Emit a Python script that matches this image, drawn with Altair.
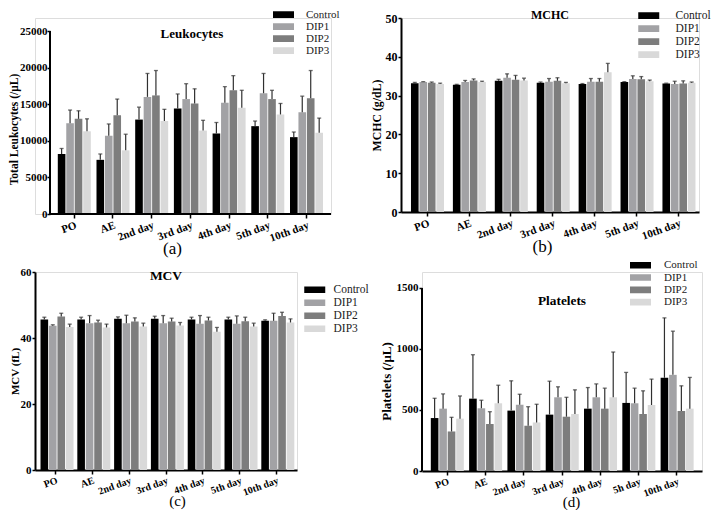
import altair as alt
import pandas as pd

# ---------------- data ----------------
groups = ["Control", "DIP1", "DIP2", "DIP3"]
colors = ["#000000", "#a2a2a5", "#7d7d7d", "#d9d9d9"]
days = ["PO", "AE", "2nd day", "3rd day", "4th day", "5th day", "10th day"]
days_plt = ["PO", "AE", "2nd day", "3rd day", "4th day", "5h day", "10th day"]

# Leukocytes (/uL): mean and error
leu_control = [8200, 7400, 12900, 14400, 11000, 12000, 10500]
leu_control_err = [750, 800, 1700, 2000, 1500, 700, 700]
leu_dip1 = [12400, 10700, 16000, 15700, 15200, 16500, 13900]
leu_dip1_err = [1800, 1600, 3200, 2100, 2200, 2700, 2200]
leu_dip2 = [13000, 13500, 16200, 15100, 16900, 15700, 15800]
leu_dip2_err = [1100, 2200, 3400, 2000, 2000, 1200, 3800]
leu_dip3 = [11300, 8700, 12700, 11400, 14500, 13600, 11100]
leu_dip3_err = [1700, 2200, 1600, 1400, 2400, 1500, 2000]

# MCHC (g/dL)
mchc_control = [33.2, 32.8, 33.8, 33.3, 33.0, 33.5, 33.1]
mchc_control_err = [0.2, 0.1, 0.4, 0.2, 0.1, 0.1, 0.1]
mchc_dip1 = [33.5, 33.5, 34.6, 33.6, 33.6, 34.3, 33.0]
mchc_dip1_err = [0.1, 0.4, 1.0, 0.8, 0.8, 0.8, 0.7]
mchc_dip2 = [33.3, 33.9, 34.1, 33.8, 33.6, 34.2, 33.1]
mchc_dip2_err = [0.2, 0.4, 1.1, 0.8, 0.8, 0.7, 0.7]
mchc_dip3 = [33.0, 33.5, 33.9, 33.2, 36.0, 33.7, 33.3]
mchc_dip3_err = [0.2, 0.2, 0.6, 0.2, 2.3, 0.3, 0.2]

# MCV (fL)
mcv_control = [45.6, 45.6, 45.8, 45.8, 45.6, 45.6, 45.2]
mcv_control_err = [0.7, 0.7, 0.6, 0.8, 0.7, 0.7, 0.3]
mcv_dip1 = [43.7, 44.5, 44.5, 44.5, 44.3, 44.3, 45.2]
mcv_dip1_err = [0.3, 2.3, 2.4, 2.3, 2.5, 2.4, 2.3]
mcv_dip2 = [46.5, 44.7, 45.0, 45.0, 45.3, 45.1, 46.7]
mcv_dip2_err = [1.0, 0.7, 1.1, 1.0, 1.0, 1.2, 1.1]
mcv_dip3 = [43.3, 43.2, 43.5, 43.8, 41.9, 43.5, 44.7]
mcv_dip3_err = [0.9, 1.0, 1.0, 0.9, 1.3, 1.0, 1.1]

# Platelets (/uL)
plt_control = [434, 593, 495, 462, 511, 558, 764]
plt_control_err = [162, 360, 244, 274, 173, 250, 491]
plt_dip1 = [511, 514, 544, 604, 604, 555, 788]
plt_dip1_err = [121, 66, 85, 86, 110, 124, 358]
plt_dip2 = [324, 385, 371, 445, 511, 467, 492]
plt_dip2_err = [116, 101, 156, 159, 168, 190, 206]
plt_dip3 = [429, 555, 398, 467, 604, 541, 511]
plt_dip3_err = [186, 148, 149, 198, 371, 212, 256]

SERIF = "Liberation Serif"
ERR = "#303030"
SYMBOL = "M-3,-0.95H3V0.95H-3Z"  # wide rectangle legend swatch


def frame(day_labels, means, errs):
    rows = []
    for g, m, e in zip(groups, means, errs):
        for d, mv, ev in zip(day_labels, m, e):
            rows.append({"day": d, "group": g, "mean": mv, "upper": mv + ev})
    return pd.DataFrame(rows)


def panel(df, day_labels, c):
    yoff = c["yoff"]
    x = alt.X(
        "day:N", sort=day_labels,
        scale=alt.Scale(paddingInner=c["pi"], paddingOuter=c["po"], align=c["align"]),
        axis=alt.Axis(
            title=c["label"], labelAngle=340, labelAlign="right", labelBaseline="top",
            labelFont=SERIF, labelFontWeight="bold", labelFontSize=c["xfs"], labelColor="black",
            labelPadding=1, tickSize=4, tickColor="black", tickWidth=1.5,
            domain=(yoff == 0), domainColor="black", domainWidth=2, labelOverlap=False,
            titleFont=SERIF, titleFontWeight="normal", titleFontSize=c["labfs"], titleColor="black",
            titlePadding=c["labpad"], titleX=c["labx"],
        ),
    )
    xo = alt.XOffset("group:N", sort=groups, scale=alt.Scale(paddingInner=0.1))
    yscale = alt.Scale(domain=[0, c["ytop"]], nice=False, zero=True)
    yaxis = alt.Axis(
        values=c["yticks"], format="d", title=c["ytitle"], grid=False, labelOverlap=False,
        domain=not c["ext"], domainColor="black", domainWidth=2, offset=-yoff,
        tickSize=3, tickColor="black", tickWidth=1.5,
        labelFont=SERIF, labelFontWeight="bold", labelFontSize=c["yfs"], labelColor="black",
        labelPadding=c["ylpad"],
        titleFont=SERIF, titleFontWeight="bold", titleFontSize=c["ytfs"], titleColor="black",
        titlePadding=c["ytpad"], titleY=c["tity"],
    )
    lg = c["leg"]
    legend = alt.Legend(
        title=None, orient="none", legendX=lg["x"], legendY=lg["y"], padding=0,
        symbolType=SYMBOL, symbolSize=49, symbolStrokeWidth=0, symbolOffset=7,
        clipHeight=lg["clip"], rowPadding=lg["rp"], labelOffset=lg["lo"],
        labelFont=SERIF, labelFontSize=lg["fs"], labelColor="#222222",
    )
    color = alt.Color("group:N", sort=groups, scale=alt.Scale(domain=groups, range=colors), legend=legend)
    base = alt.Chart(df)
    bars = base.mark_bar().encode(
        x=x, xOffset=xo, y=alt.Y("mean:Q", scale=yscale, axis=yaxis), color=color)
    errs = base.mark_rule(color=ERR, strokeWidth=1.2).encode(
        x=x, xOffset=xo, y=alt.Y("mean:Q", scale=yscale, axis=yaxis), y2="upper:Q")
    caps = base.mark_tick(color=ERR, thickness=1.3, size=4, orient="horizontal").encode(
        x=x, xOffset=xo, y=alt.Y("upper:Q", scale=yscale, axis=yaxis))
    layers = [bars, errs, caps]
    one = pd.DataFrame({"v": [0]})
    if c["ext"]:
        layers.append(alt.Chart(one).mark_rule(color="black", strokeWidth=2).encode(
            x=alt.value(yoff), y=alt.YDatum(0, scale=yscale, axis=yaxis), y2=alt.Y2Datum(c["yticks"][-1])))
    if yoff:
        layers.append(alt.Chart(one).mark_rule(color="black", strokeWidth=2).encode(
            x=alt.value(yoff), x2=alt.value(c["w"]), y=alt.value(c["h"])))
    return alt.layer(*layers).properties(
        width=c["w"], height=c["h"],
        title=alt.Title(c["title"], font=SERIF, fontWeight="bold", fontSize=c["tfs"], color="black",
                        anchor="middle", frame="group", offset=c["toff"], dx=c["tdx"]),
    )


pa = panel(frame(days, [leu_control, leu_dip1, leu_dip2, leu_dip3],
                 [leu_control_err, leu_dip1_err, leu_dip2_err, leu_dip3_err]), days,
           dict(w=296, h=196, ytop=26776, yticks=[0, 5000, 10000, 15000, 20000, 25000], ext=True,
                yoff=15, ytitle="Total Leukocytes (/μL)", tity=111, ytfs=11.5, ytpad=0, ylpad=0,
                yfs=11, xfs=11, title="Leukocytes", tfs=13, toff=-30.5, tdx=9,
                label="(a)", labx=137, labfs=17, labpad=-3,
                pi=0.147, po=0.398, align=0.74,
                leg=dict(x=236, y=-8, clip=9.3, rp=0, lo=17, fs=11)))

pb = panel(frame(days, [mchc_control, mchc_dip1, mchc_dip2, mchc_dip3],
                 [mchc_control_err, mchc_dip1_err, mchc_dip2_err, mchc_dip3_err]), days,
           dict(w=298, h=194, ytop=50, yticks=[0, 10, 20, 30, 40, 50], ext=False,
                yoff=0, ytitle="MCHC (g/dL)", tity=97, ytfs=11.8, ytpad=3, ylpad=1,
                yfs=12, xfs=11, title="MCHC", tfs=12, toff=-12, tdx=0,
                label="(b)", labx=141, labfs=17, labpad=-3,
                pi=0.23, po=0.17, align=0.7,
                leg=dict(x=235, y=-8, clip=11.3, rp=0, lo=21, fs=11.5)))

pc = panel(frame(days, [mcv_control, mcv_dip1, mcv_dip2, mcv_dip3],
                 [mcv_control_err, mcv_dip1_err, mcv_dip2_err, mcv_dip3_err]), days,
           dict(w=262, h=198, ytop=60, yticks=[0, 20, 40, 60], ext=False,
                yoff=0, ytitle="MCV (fL)", tity=99, ytfs=11, ytpad=0, ylpad=1,
                yfs=11, xfs=10, title="MCV", tfs=13.5, toff=-16, tdx=0,
                label="(c)", labx=142, labfs=15, labpad=-4,
                pi=0.18, po=0.15, align=0.5,
                leg=dict(x=267, y=13, clip=9.5, rp=0, lo=13, fs=11.5)))

pd_ = panel(frame(days_plt, [plt_control, plt_dip1, plt_dip2, plt_dip3],
                  [plt_control_err, plt_dip1_err, plt_dip2_err, plt_dip3_err]), days_plt,
            dict(w=280, h=199, ytop=1631, yticks=[0, 500, 1000, 1500], ext=True,
                 yoff=0, ytitle="Platelets (/μL)", tity=109, ytfs=13, ytpad=3, ylpad=1,
                 yfs=11, xfs=10, title="Platelets", tfs=13.3, toff=-47.5, tdx=0,
                 label="(d)", labx=149, labfs=15, labpad=-4,
                 pi=0.15, po=0.23, align=0.5,
                 leg=dict(x=206, y=-12, clip=10.5, rp=0.3, lo=18, fs=11)))

row1 = alt.hconcat(pa, pb, spacing=29).resolve_scale(color="independent", x="independent", y="independent")
row2 = alt.hconcat(pc, pd_, spacing=9).resolve_scale(color="independent", x="independent", y="independent")

chart = alt.concat(row1, row2, columns=1, align="none", spacing=2).resolve_scale(
    color="independent", x="independent", y="independent"
).properties(padding=0).configure_view(strokeWidth=0).configure(background="white")

chart.save("out.html", embed_options={"renderer": "svg", "actions": False})
